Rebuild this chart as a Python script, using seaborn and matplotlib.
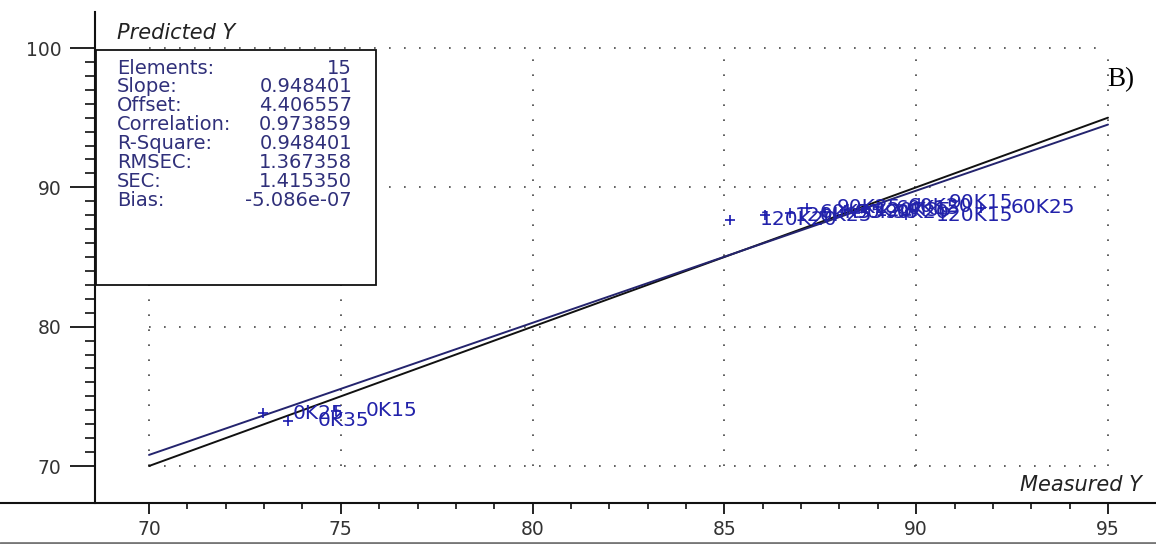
import numpy as np
import pandas as pd
import seaborn as sns
import matplotlib.pyplot as plt
from matplotlib.ticker import FixedLocator
from matplotlib.patches import Rectangle
from matplotlib.lines import Line2D

sns.set_style('white')
plt.rcParams['font.family'] = ['DejaVu Sans']

# data
sample_names = ['0K25', '0K35', '0K15',
                '120K20', '120K25', '60K35', '90K25', '90K35', '120K35',
                '90K20', '60K15', '60K20', '120K15', '90K15', '60K25']
measured = [72.97, 73.62, 74.87,
            85.15, 86.06, 86.71, 87.15, 87.62, 88.14,
            88.40, 88.69, 89.00, 89.73, 90.07, 91.69]
predicted = [73.80, 73.23, 73.95,
             87.66, 88.01, 88.16, 88.52, 88.23, 88.37,
             88.16, 88.45, 88.59, 88.01, 88.88, 88.52]

stat_names = ['Elements:', 'Slope:', 'Offset:', 'Correlation:', 'R-Square:',
              'RMSEC:', 'SEC:', 'Bias:']
stat_values = ['15', '0.948401', '4.406557', '0.973859', '0.948401',
               '1.367358', '1.415350', '-5.086e-07']
slope = 0.948401
offset = 4.406557
line_x = [70, 95]
x_ticks = [70, 75, 80, 85, 90, 95]
y_ticks = [70, 80, 90, 100]

W, H = 1156, 544
fig = plt.figure(figsize=(W / 100, H / 100), dpi=100)
ax = fig.add_axes([0, 0, 1, 1])

# pixel <-> data mapping of the original screenshot
x0px, xs = 149, 38.36
y0px, ys = 466, 13.933
ax.set_xlim(70 - x0px / xs, 70 + (W - x0px) / xs)
ax.set_ylim(70 - (H - y0px) / ys, 70 + y0px / ys)

# grid limited to the data area
grid_kw = dict(colors='#444444', linewidth=1.2, linestyles=[(0, (1, 8))], zorder=1)
ax.vlines(x_ticks, y_ticks[0], y_ticks[-1], **grid_kw)
ax.hlines(y_ticks, x_ticks[0], x_ticks[-1], **grid_kw)

# target and regression lines
lines = pd.DataFrame({
    'x': line_x + line_x,
    'y': list(line_x) + [slope * v + offset for v in line_x],
    'kind': ['Target'] * 2 + ['Regression'] * 2,
})
sns.lineplot(data=lines, x='x', y='y', hue='kind', estimator=None,
             palette={'Target': '#111111', 'Regression': '#24246e'},
             linewidth=1.4, legend=False, ax=ax, zorder=2)

# samples
sns.scatterplot(x=measured, y=predicted, marker='+', s=45, color='#1a1ab0',
                linewidth=1.2, ax=ax, zorder=3)
for name, mx, py in zip(sample_names, measured, predicted):
    ax.annotate(name, (mx, py), xytext=(21.6, 0), textcoords='offset points',
                ha='left', va='center', fontsize=14.5, color='#2222aa', zorder=3)

# axes look
for s in ['top', 'right']:
    ax.spines[s].set_visible(False)
ax.spines['left'].set_position(('data', 70 - (x0px - 95) / xs))
ax.spines['bottom'].set_position(('data', 70 - (503 - y0px) / ys))
ax.spines['left'].set_bounds(70 - (503 - y0px) / ys, 70 + (y0px - 12) / ys)
for s in ['left', 'bottom']:
    ax.spines[s].set_linewidth(1.5)
    ax.spines[s].set_color('#111111')

ax.xaxis.set_major_locator(FixedLocator(x_ticks))
ax.xaxis.set_minor_locator(FixedLocator(range(70, 96)))
ax.yaxis.set_major_locator(FixedLocator(y_ticks))
ax.yaxis.set_minor_locator(FixedLocator(range(70, 101)))
ax.tick_params(axis='x', which='both', bottom=True, direction='out', color='#111111')
ax.tick_params(axis='y', which='both', left=True, direction='out', color='#111111')
ax.tick_params(axis='x', which='major', length=8, width=1.3, pad=4,
               labelsize=13.5, labelcolor='#333333')
ax.tick_params(axis='x', which='minor', length=4.5, width=1.2)
ax.tick_params(axis='y', which='major', length=18, width=1.3, pad=6,
               labelsize=13.5, labelcolor='#333333')
ax.tick_params(axis='y', which='minor', length=7, width=1.2)
ax.set_xlabel('')
ax.set_ylabel('')

# statistics box
ax.add_patch(Rectangle((96 / W, 1 - 285 / H), 280 / W, 235 / H, transform=ax.transAxes,
                       facecolor='white', edgecolor='#111111', linewidth=1.3, zorder=4))
for i, (n, v) in enumerate(zip(stat_names, stat_values)):
    yy = 1 - (68 + i * 18.9) / H
    ax.text(117 / W, yy, n, transform=ax.transAxes, ha='left', va='center',
            fontsize=14, color='#30307a', zorder=5)
    ax.text(352 / W, yy, v, transform=ax.transAxes, ha='right', va='center',
            fontsize=14, color='#30307a', zorder=5)

ax.text(117 / W, 1 - 33 / H, 'Predicted Y', transform=ax.transAxes, style='italic',
        ha='left', va='center', fontsize=15, color='#222222')
ax.text(1142 / W, 1 - 485 / H, 'Measured Y', transform=ax.transAxes, style='italic',
        ha='right', va='center', fontsize=15, color='#222222')
ax.text(1107 / W, 1 - 80 / H, 'B)', transform=ax.transAxes, family='Liberation Serif',
        ha='left', va='center', fontsize=19.5, color='black')

# bottom border line of the screenshot
fig.add_artist(Line2D([0, 1], [1.5 / H, 1.5 / H], color='#777777', linewidth=2))

fig.savefig('out.png', dpi=100)
